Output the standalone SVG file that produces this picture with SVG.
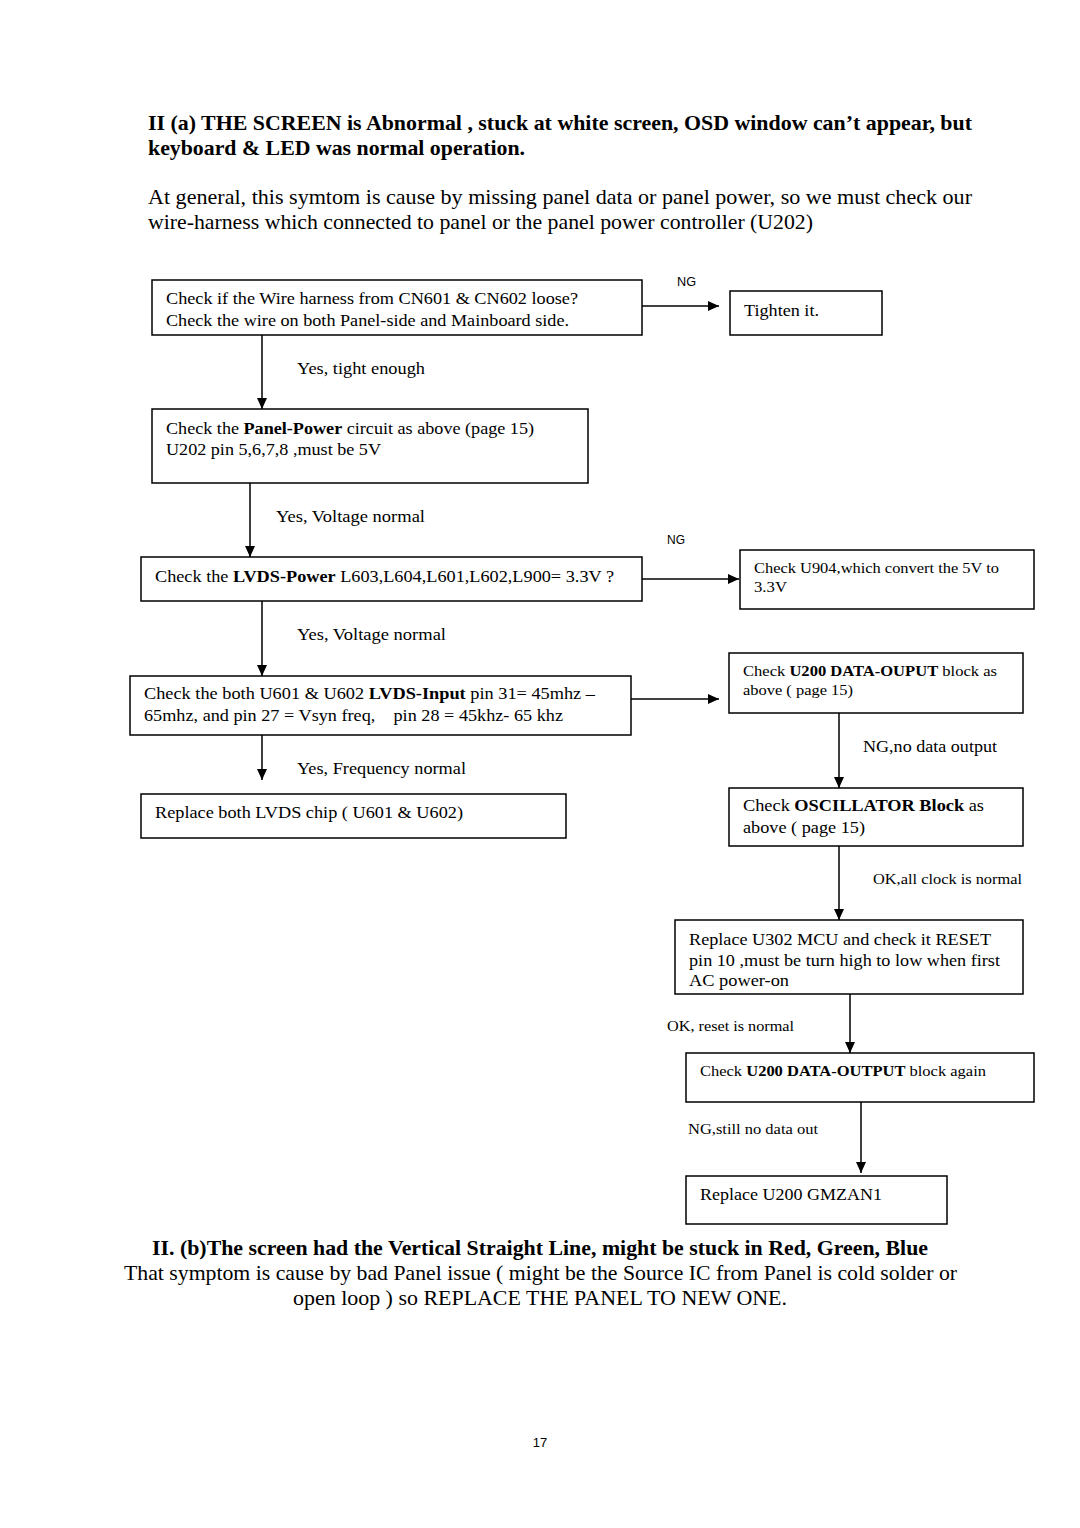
<svg xmlns="http://www.w3.org/2000/svg" width="1080" height="1528" viewBox="0 0 1080 1528">
<style>
text{font-family:"Liberation Serif","Times New Roman",serif;fill:#000}
.h{font-size:21px;font-weight:bold}
.p{font-size:21px}
.t{font-size:17px}
.s{font-size:14.5px}
.b{font-weight:bold}
.ng{font-family:"Liberation Sans",Arial,sans-serif;font-size:13px}
.box{fill:#fff;stroke:#000;stroke-width:1.5}
.c line{stroke:#000;stroke-width:1.5}
.pg{font-family:"Liberation Sans",Arial,sans-serif;font-size:13px}
</style>
<defs>
<marker id="ah" markerUnits="userSpaceOnUse" markerWidth="12" markerHeight="12" viewBox="0 0 12 12" refX="11" refY="6" orient="auto">
<path d="M0,1 L11,6 L0,11 z" fill="#000"/>
</marker>
</defs>
<rect width="1080" height="1528" fill="#fff"/>

<g id="title">
<text class="h" x="148" y="130" textLength="824" lengthAdjust="spacingAndGlyphs">II (a) THE SCREEN is Abnormal , stuck at white screen, OSD window can’t appear, but</text>
<text class="h" x="148" y="155" textLength="377" lengthAdjust="spacingAndGlyphs">keyboard &amp; LED was normal operation.</text>
<text class="p" x="148" y="204" textLength="824" lengthAdjust="spacingAndGlyphs">At general, this symtom is cause by missing panel data or panel power, so we must check our</text>
<text class="p" x="148" y="229" textLength="665" lengthAdjust="spacingAndGlyphs">wire-harness which connected to panel or the panel power controller (U202)</text>
</g>

<g class="c" id="connectors">
<line x1="642" y1="306" x2="719" y2="306" marker-end="url(#ah)"/>
<line x1="262" y1="335" x2="262" y2="409" marker-end="url(#ah)"/>
<line x1="250" y1="483" x2="250" y2="557" marker-end="url(#ah)"/>
<line x1="642" y1="579" x2="739" y2="579" marker-end="url(#ah)"/>
<line x1="262" y1="601" x2="262" y2="676" marker-end="url(#ah)"/>
<line x1="631" y1="699" x2="719" y2="699" marker-end="url(#ah)"/>
<line x1="262" y1="735" x2="262" y2="780" marker-end="url(#ah)"/>
<line x1="839" y1="713" x2="839" y2="788" marker-end="url(#ah)"/>
<line x1="839" y1="846" x2="839" y2="920" marker-end="url(#ah)"/>
<line x1="850" y1="994" x2="850" y2="1053" marker-end="url(#ah)"/>
<line x1="861" y1="1102" x2="861" y2="1173" marker-end="url(#ah)"/>
<text class="ng" x="677" y="286" textLength="19" lengthAdjust="spacingAndGlyphs">NG</text>
<text class="ng" x="667" y="544" textLength="18" lengthAdjust="spacingAndGlyphs">NG</text>
<text class="t" x="297" y="374" textLength="128" lengthAdjust="spacingAndGlyphs">Yes, tight enough</text>
<text class="t" x="276" y="522" textLength="149" lengthAdjust="spacingAndGlyphs">Yes, Voltage normal</text>
<text class="t" x="297" y="640" textLength="149" lengthAdjust="spacingAndGlyphs">Yes, Voltage normal</text>
<text class="t" x="297" y="774" textLength="169" lengthAdjust="spacingAndGlyphs">Yes, Frequency normal</text>
<text class="t" x="863" y="752" textLength="134" lengthAdjust="spacingAndGlyphs">NG,no data output</text>
<text class="s" x="873" y="884" textLength="149" lengthAdjust="spacingAndGlyphs">OK,all clock is normal</text>
<text class="s" x="667" y="1031" textLength="127" lengthAdjust="spacingAndGlyphs">OK, reset is normal</text>
<text class="s" x="688" y="1134" textLength="130" lengthAdjust="spacingAndGlyphs">NG,still no data out</text>
</g>

<g id="nodeA">
<rect class="box" x="152" y="280" width="490" height="55"/>
<text class="t" x="166" y="304" textLength="412" lengthAdjust="spacingAndGlyphs">Check if the Wire harness from CN601 &amp; CN602 loose?</text>
<text class="t" x="166" y="326" textLength="403" lengthAdjust="spacingAndGlyphs">Check the wire on both Panel-side and Mainboard side.</text>
</g>
<g id="nodeTighten">
<rect class="box" x="730" y="291" width="152" height="44"/>
<text class="t" x="744" y="316" textLength="75" lengthAdjust="spacingAndGlyphs">Tighten it.</text>
</g>
<g id="nodeB">
<rect class="box" x="152" y="409" width="436" height="74"/>
<text class="t" x="166" y="434" textLength="368" lengthAdjust="spacingAndGlyphs">Check the <tspan class="b">Panel-Power</tspan> circuit as above (page 15)</text>
<text class="t" x="166" y="455" textLength="215" lengthAdjust="spacingAndGlyphs">U202 pin 5,6,7,8 ,must be 5V</text>
</g>
<g id="nodeC">
<rect class="box" x="141" y="557" width="501" height="44"/>
<text class="t" x="155" y="582" textLength="459" lengthAdjust="spacingAndGlyphs">Check the <tspan class="b">LVDS-Power</tspan> L603,L604,L601,L602,L900= 3.3V ?</text>
</g>
<g id="nodeD">
<rect class="box" x="740" y="550" width="294" height="59"/>
<text class="s" x="754" y="573" textLength="245" lengthAdjust="spacingAndGlyphs">Check U904,which convert the 5V to</text>
<text class="s" x="754" y="592" textLength="33" lengthAdjust="spacingAndGlyphs">3.3V</text>
</g>
<g id="nodeE">
<rect class="box" x="130" y="676" width="501" height="59"/>
<text class="t" x="144" y="699" textLength="451" lengthAdjust="spacingAndGlyphs">Check the both U601 &amp; U602 <tspan class="b">LVDS-Input</tspan> pin 31= 45mhz –</text>
<text class="t" x="144" y="721" textLength="419" lengthAdjust="spacingAndGlyphs" xml:space="preserve">65mhz, and pin 27 = Vsyn freq,    pin 28 = 45khz- 65 khz</text>
</g>
<g id="nodeF">
<rect class="box" x="729" y="653" width="294" height="60"/>
<text class="s" x="743" y="676" textLength="254" lengthAdjust="spacingAndGlyphs">Check <tspan class="b">U200 DATA-OUPUT</tspan> block as</text>
<text class="s" x="743" y="695" textLength="110" lengthAdjust="spacingAndGlyphs">above ( page 15)</text>
</g>
<g id="nodeG">
<rect class="box" x="141" y="794" width="425" height="44"/>
<text class="t" x="155" y="818" textLength="308" lengthAdjust="spacingAndGlyphs">Replace both LVDS chip ( U601 &amp; U602)</text>
</g>
<g id="nodeH">
<rect class="box" x="729" y="788" width="294" height="58"/>
<text class="t" x="743" y="811" textLength="241" lengthAdjust="spacingAndGlyphs">Check <tspan class="b">OSCILLATOR Block</tspan> as</text>
<text class="t" x="743" y="833" textLength="122" lengthAdjust="spacingAndGlyphs">above ( page 15)</text>
</g>
<g id="nodeI">
<rect class="box" x="675" y="920" width="348" height="74"/>
<text class="t" x="689" y="945" textLength="302" lengthAdjust="spacingAndGlyphs">Replace U302 MCU and check it RESET</text>
<text class="t" x="689" y="966" textLength="311" lengthAdjust="spacingAndGlyphs">pin 10 ,must be turn high to low when first</text>
<text class="t" x="689" y="986" textLength="100" lengthAdjust="spacingAndGlyphs">AC power-on</text>
</g>
<g id="nodeJ">
<rect class="box" x="686" y="1053" width="348" height="49"/>
<text class="s" x="700" y="1076" textLength="286" lengthAdjust="spacingAndGlyphs">Check <tspan class="b">U200 DATA-OUTPUT</tspan> block again</text>
</g>
<g id="nodeK">
<rect class="box" x="686" y="1176" width="261" height="48"/>
<text class="t" x="700" y="1200" textLength="182" lengthAdjust="spacingAndGlyphs">Replace U200 GMZAN1</text>
</g>

<g id="footer">
<text class="h" x="152" y="1255" textLength="776" lengthAdjust="spacingAndGlyphs">II. (b)The screen had the Vertical Straight Line, might be stuck in Red, Green, Blue</text>
<text class="p" x="124" y="1280" textLength="833" lengthAdjust="spacingAndGlyphs">That symptom is cause by bad Panel issue ( might be the Source IC from Panel is cold solder or</text>
<text class="p" x="293" y="1305" textLength="494" lengthAdjust="spacingAndGlyphs">open loop ) so REPLACE THE PANEL TO NEW ONE.</text>
<text class="pg" x="540" y="1447" text-anchor="middle">17</text>
</g>
</svg>
